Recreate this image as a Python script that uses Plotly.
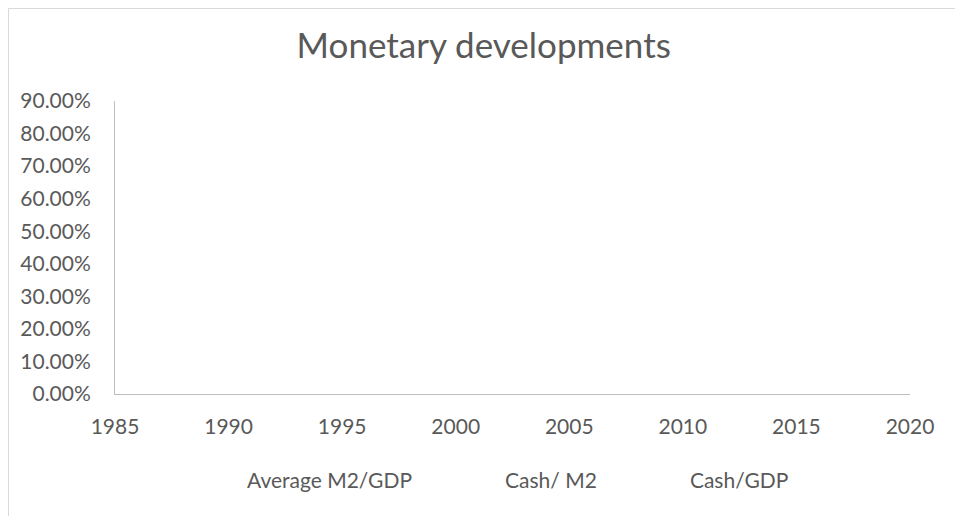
import plotly.graph_objects as go

# Data (the reference chart shows no plotted values)
years = [1985, 1990, 1995, 2000, 2005, 2010, 2015, 2020]
avg_m2_gdp = [None] * len(years)
cash_m2 = [None] * len(years)
cash_gdp = [None] * len(years)
series_names = ["Average M2/GDP", "Cash/ M2", "Cash/GDP"]
y_ticks = [0, 0.1, 0.2, 0.3, 0.4, 0.5, 0.6, 0.7, 0.8, 0.9]
y_tick_labels = ["0.00%", "10.00%", "20.00%", "30.00%", "40.00%", "50.00%",
                 "60.00%", "70.00%", "80.00%", "90.00%"]

FONT = "Lato, 'Liberation Sans', sans-serif"
GREY = "#595959"

# layout geometry (div coordinates; page adds an 8px body margin)
L, R, T, B = 107, 61, 93, 130
W, H = 963, 516
PW = W - L - R
PH = H - T - B

fig = go.Figure()
for name, vals in zip(series_names, [avg_m2_gdp, cash_m2, cash_gdp]):
    fig.add_trace(go.Scatter(x=years, y=vals, name=name, mode="lines",
                             line=dict(color="rgba(0,0,0,0)", width=2),
                             showlegend=True))

fig.update_layout(
    width=W, height=H,
    margin=dict(l=L, r=R, t=T, b=B),
    paper_bgcolor="white", plot_bgcolor="white",
    title=dict(text="Monetary developments", x=0.494, xanchor="center",
               xref="container", yref="container",
               y=1 - 38 / H, yanchor="middle",
               font=dict(family=FONT, size=35, color=GREY)),
    font=dict(family=FONT, color=GREY, size=21),
    xaxis=dict(range=[1985, 2020], tickvals=years, ticktext=[str(y) for y in years],
               showgrid=False, zeroline=False, showline=True, linecolor="#BFBFBF",
               linewidth=1, ticks="", ticklabelstandoff=14,
               tickfont=dict(size=21, color=GREY)),
    yaxis=dict(range=[0, 0.9], tickvals=y_ticks, ticktext=y_tick_labels,
               showgrid=False, zeroline=False, showline=True, linecolor="#BFBFBF",
               linewidth=1, ticks="", ticklabelstandoff=19,
               tickfont=dict(size=21, color=GREY)),
    legend=dict(orientation="h", x=(151 - L) / PW, xanchor="left",
                y=(PH + T - 472) / PH, yanchor="middle",
                font=dict(size=21, color=GREY), itemwidth=78,
                bgcolor="rgba(0,0,0,0)"),
    showlegend=True,
)

# outer chart border (top and left edges visible)
fig.add_shape(type="line", xref="paper", yref="paper",
              x0=(0.5 - L) / PW, x1=(W - L) / PW, y0=(PH + T - 0.5) / PH, y1=(PH + T - 0.5) / PH,
              line=dict(color="#D9D9D9", width=1))
fig.add_shape(type="line", xref="paper", yref="paper",
              x0=(0.5 - L) / PW, x1=(0.5 - L) / PW, y0=-B / PH, y1=(PH + T - 0.5) / PH,
              line=dict(color="#D9D9D9", width=1))

fig.write_html("out.html")
